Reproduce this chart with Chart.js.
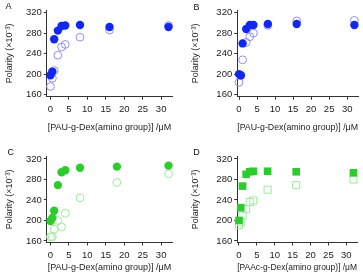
<!DOCTYPE html>
<html><head><meta charset="utf-8">
<script src="https://cdn.jsdelivr.net/npm/chart.js@4.4.0/dist/chart.umd.min.js"></script>
<style>
html,body{margin:0;padding:0;background:#fff;width:363px;height:280px;overflow:hidden;font-family:"Liberation Sans",Arial,sans-serif}
.p{position:absolute}
.p canvas{display:block}
.lbl{position:absolute;font-size:9px;line-height:9px;color:#111}
</style></head><body>
<div class="p" style="left:0;top:0;width:186px;height:140px"><canvas id="cA" width="186" height="140"></canvas></div>
<div class="p" style="left:186px;top:0;width:177px;height:140px"><canvas id="cB" width="177" height="140"></canvas></div>
<div class="p" style="left:0;top:140px;width:186px;height:140px"><canvas id="cC" width="186" height="140"></canvas></div>
<div class="p" style="left:186px;top:140px;width:177px;height:140px"><canvas id="cD" width="177" height="140"></canvas></div>
<div class="lbl" style="left:5.5px;top:1.8px">A</div>
<div class="lbl" style="left:193.5px;top:2.5px">B</div>
<div class="lbl" style="left:7.5px;top:147.8px">C</div>
<div class="lbl" style="left:193.2px;top:147.8px">D</div>
<script>
// ---- data ----
const concA = [0, 0.5, 1, 2, 3, 4, 8, 16, 32];
const polA_filled = [198, 205, 268, 285, 294, 295, 296, 292, 292];
const polA_open   = [176, 192, 207, 237, 253, 258, 272, 286, 295];

const concB = [0, 0.5, 1, 2, 3, 4, 8, 16, 32];
const polB_filled = [200, 198, 260, 288, 296, 296, 298, 298, 296];
const polB_open   = [184, 197, 228, 262, 273, 280, 295, 304, 305];

const concC = [0, 0.5, 1, 2, 3, 4, 8, 18, 32];
const polC_filled = [199, 205, 219, 269, 294, 298, 303, 305, 307];
const polC_open   = [168, 168, 183, 200, 187, 214, 244, 274, 291];

const concD = [0, 0.5, 1, 2, 3, 4, 8, 16, 32];
const polD_filled = [200, 225, 267, 290, 295, 296, 296, 295, 293];
const polD_open   = [191, 196, 210, 222, 236, 239, 260, 269, 280];

const yTickVals = [160, 200, 240, 280, 320];
const xTickVals = [0, 5, 10, 15, 20, 25, 30];
const yTitle = 'Polarity (×10⁻³)';
const xTitlePAU = '[PAU-g-Dex(amino group)] /μM';
const xTitlePAAc = '[PAAc-g-Dex(amino group)] /μM';

// ---- drawing ----
const FONT = '"Liberation Sans", Arial, sans-serif';
const AX = '#333';
function pts(xs, ys) { return xs.map((x, i) => ({x: x, y: ys[i]})); }

function panel(id, g, xs, filled, open, st, xTitle) {
  new Chart(document.getElementById(id), {
    type: 'scatter',
    data: { datasets: [
      { data: pts(xs, filled), pointStyle: st.shape, pointRadius: st.r, backgroundColor: st.fill,
        borderColor: st.fill, borderWidth: 0, clip: false },
      { data: pts(xs, open), pointStyle: st.shape, pointRadius: st.ro, backgroundColor: 'rgba(255,255,255,0)',
        borderColor: st.open, borderWidth: 1, clip: false }
    ]},
    options: {
      responsive: false, animation: false, events: [],
      layout: { padding: { left: 0, top: g.top, right: g.w - g.right, bottom: 0 } },
      plugins: { legend: { display: false }, tooltip: { enabled: false } },
      scales: {
        x: {
          type: 'linear', min: g.xmin, max: g.xmax,
          afterBuildTicks: s => { s.ticks = xTickVals.map(v => ({value: v})); },
          afterFit: s => { s.height = g.h - g.bottom; },
          ticks: { color: '#222', font: { family: FONT, size: 9.5 }, padding: 4, maxRotation: 0, autoSkip: false },
          grid: { drawOnChartArea: false, drawTicks: true, tickLength: 3, color: AX },
          border: { display: true, color: AX, width: 1 },
          title: { display: true, text: xTitle, color: '#222', font: { family: FONT, size: 9 }, padding: { top: 0, bottom: g.xtp } }
        },
        y: {
          type: 'linear', min: g.ymin, max: g.ymax,
          afterBuildTicks: s => { s.ticks = yTickVals.map(v => ({value: v})); },
          afterFit: s => { s.width = g.left; },
          ticks: { color: '#222', font: { family: FONT, size: 9.5 }, padding: 2, autoSkip: false },
          grid: { drawOnChartArea: false, drawTicks: true, tickLength: 3, color: AX },
          border: { display: true, color: AX, width: 1 },
          title: { display: true, text: yTitle, color: '#222', font: { family: FONT, size: 9 }, padding: { top: 4.5, bottom: 0 } }
        }
      }
    }
  });
}

const blue = { shape: 'circle', r: 4.2, ro: 3.9, fill: '#1228f0', open: '#8e8eff' };
const green = { shape: 'circle', r: 4.2, ro: 3.9, fill: '#2ccc2c', open: '#9ee89e' };
const greenSq = { shape: 'rect', r: 5.4, ro: 5.0, fill: '#2ccc2c', open: '#9ee89e' };

const gA = { w: 186, h: 140, left: 46.8, right: 172.2, top: 10.1, bottom: 96.7, xmin: -1, xmax: 33, ymin: 156, ymax: 325, xtp: 7.5 };
const gB = { w: 177, h: 140, left: 51.2, right: 174.8, top: 10.1, bottom: 96.7, xmin: -0.5, xmax: 33, ymin: 156, ymax: 325, xtp: 7.5 };
const gC = { w: 186, h: 140, left: 46.8, right: 172.2, top: 16.4, bottom: 102.5, xmin: -1, xmax: 33, ymin: 157, ymax: 325, xtp: 7.5 };
const gD = { w: 177, h: 140, left: 51.2, right: 174.8, top: 16.4, bottom: 102.5, xmin: -0.5, xmax: 33, ymin: 157, ymax: 325, xtp: 7.5 };

panel('cA', gA, concA, polA_filled, polA_open, blue, xTitlePAU);
panel('cB', gB, concB, polB_filled, polB_open, blue, xTitlePAU);
panel('cC', gC, concC, polC_filled, polC_open, green, xTitlePAU);
panel('cD', gD, concD, polD_filled, polD_open, greenSq, xTitlePAAc);
</script>
</body></html>
